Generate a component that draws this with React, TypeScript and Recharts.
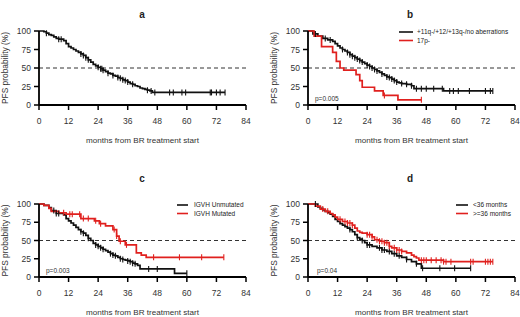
import React from 'react';
import { ComposedChart, Line, XAxis, YAxis, ReferenceLine, Legend } from 'recharts';

const MONTH_TICKS = [0, 12, 24, 36, 48, 60, 72, 84];
const PCT_TICKS = [0, 25, 50, 75, 100];
const X_TITLE = 'months from BR treatment start';
const Y_TITLE = 'PFS probability (%)';

// Panel a: all patients
const A_T = [0, 2, 3, 4, 5, 6, 7, 8, 10, 11, 12, 13, 14, 15, 16, 17, 18, 19, 20, 21, 22, 23, 24, 25, 26, 27, 28, 29, 30, 31, 32, 33, 34, 35, 36, 37, 38, 39, 40, 41, 42, 43, 44, 45, 46, 75.5];
const A_S = [100, 99, 97, 95, 94, 92, 90, 89, 87, 83, 79, 77, 75, 73, 71, 69, 67, 64, 61, 58, 55, 53, 51, 49, 47, 45, 43, 42, 40, 39, 37, 36, 34, 33, 31, 29, 28, 26, 25, 23, 22, 21, 20, 19, 17, 17];
const A_C = [3, 8, 9, 17, 18, 19, 20, 24, 25, 25.5, 26, 28, 30, 32, 33, 34, 35, 36, 38, 44, 45.5, 47, 53, 54.5, 58, 59.5, 69.5, 70, 72, 73.5, 75.5];

// Panel b
const B_NAMES = ['+11q-/+12/+13q-/no aberrations', '17p-'];
const B1_T = [0, 2, 4, 6, 8, 10, 11, 12, 13, 14, 15, 16, 17, 18, 19, 20, 21, 22, 23, 24, 25, 26, 27, 28, 29, 30, 31, 32, 33, 34, 35, 36, 37, 38, 40, 42, 43, 55, 75];
const B1_S = [100, 96, 93, 90, 88, 86, 83, 80, 77, 75, 73, 71, 68, 66, 64, 62, 60, 58, 56, 54, 52, 50, 48, 46, 44, 42, 40, 38, 37, 35, 33, 31, 30, 29, 28, 26, 22, 19, 19];
const B1_C = [3, 7, 9, 14, 16, 17, 18, 19, 20, 21, 22, 24, 25, 26, 27, 28, 30, 32, 33, 34, 35, 36, 38, 40, 42, 44, 46, 48, 51, 54.5, 57.5, 59, 61, 65.5, 72, 74, 75];
const B2_T = [0, 2.5, 5.5, 10, 11.5, 13, 14.5, 19.5, 21, 22, 27, 30.5, 36.5, 46];
const B2_S = [100, 93, 79, 71, 59, 50, 47, 41, 33, 24, 19, 13, 7, 7];
const B2_C = [31, 46];

// Panel c
const C_NAMES = ['IGVH Unmutated', 'IGVH Mutated'];
const C1_T = [0, 2, 4, 5, 7, 10, 11, 12, 13, 14, 15, 16, 17, 18, 19, 20, 21, 22, 23, 24, 25, 26, 27, 28, 29, 30, 31, 32, 33, 34, 35, 36, 37, 38, 39, 40, 41, 55, 60];
const C1_S = [100, 98, 95, 91, 87, 85, 80, 77, 74, 71, 68, 65, 62, 60, 57, 53, 50, 46, 44, 42, 40, 38, 36, 34, 32, 30, 29, 27, 25, 24, 23, 22, 21, 19, 18, 16, 11, 5, 5];
const C1_C = [6, 7, 8, 17, 18, 20, 23, 24, 25, 26, 29, 30, 31, 33, 34, 36, 37, 38, 39, 44.5, 48, 60];
const C2_T = [0, 2, 4, 5, 8, 11, 17, 22.5, 24.5, 27, 30, 31.5, 32.5, 35, 39.5, 41.5, 43.5, 75];
const C2_S = [100, 98, 94, 90, 88, 86, 80, 77, 73, 70, 65, 56, 49, 44, 33, 30, 27, 27];
const C2_C = [10, 12.5, 13.5, 16.5, 18, 20, 23, 25, 30.5, 31.5, 33, 35.5, 46.5, 57, 66, 75];

// Panel d
const D_NAMES = ['<36 months', '>=36 months'];
const D1_T = [0, 4, 5, 6, 7, 8, 9, 10, 11, 12, 13, 14, 15, 16, 17, 18, 19, 20, 21, 22, 23, 24, 26, 28, 30, 32, 34, 36, 38, 40, 42, 44, 46, 66];
const D1_S = [100, 96, 94, 92, 90, 88, 86, 83, 79, 76, 73, 71, 69, 67, 65, 62, 58, 54, 52, 50, 47, 44, 42, 40, 37, 35, 32, 29, 27, 24, 21, 18, 12, 12];
const D1_C = [3, 17, 20, 22, 24, 25, 29, 30, 31, 33, 35, 37, 40, 44, 46.5, 53.5, 59.5, 66];
const D2_T = [0, 3, 5, 7, 9, 10, 11, 12, 14, 16, 18, 19, 20, 21, 22, 24, 26, 27, 29, 31, 33, 34, 36, 38, 40, 42, 43, 44, 45, 55, 75];
const D2_S = [100, 97, 93, 90, 87, 85, 82, 79, 76, 74, 71, 67, 63, 61, 60, 58, 55, 51, 49, 47, 42, 40, 37, 35, 33, 30, 28, 26, 23, 21, 21];
const D2_C = [6, 8, 13, 15, 16, 17, 18, 24, 25, 26, 28, 29, 30, 31, 32, 33, 35, 36, 37, 38, 46, 47, 48, 50, 52, 54, 55, 56, 58, 66, 67, 72, 73, 74, 75];

const P_VALUES = { b: 'p=0.005', c: 'p=0.003', d: 'p=0.04' };

const BLACK = '#111';
const RED = '#e0201e';
const FONT = '"Liberation Sans", Arial, Helvetica, sans-serif';

type Pt = { t: number; s: number; c: boolean };

function survivalAt(T: number[], S: number[], t: number) {
  let v = S[0];
  for (let i = 0; i < T.length; i++) if (T[i] <= t) v = S[i];
  return v;
}

function build(T: number[], S: number[], C: number[]): Pt[] {
  const pts: Pt[] = T.map((t, i) => ({ t, s: S[i], c: false }));
  C.forEach((c) => pts.push({ t: c, s: survivalAt(T, S, c), c: true }));
  pts.sort((a, b) => a.t - b.t || (a.c ? 1 : 0) - (b.c ? 1 : 0));
  return pts;
}

const censorDot = (color: string) => (props: any) => {
  const { cx, cy, payload, index } = props;
  if (!payload || !payload.c) return <g key={`n${index}`} />;
  return <line key={`c${index}`} x1={cx} x2={cx} y1={cy - 3} y2={cy + 3} stroke={color} strokeWidth={1.1} />;
};

const yLabel = (props: any) => {
  const vb = props.viewBox || {};
  const x = vb.x + vb.width - 34;
  const y = vb.y + vb.height / 2;
  return (
    <text x={x} y={y} transform={`rotate(-90 ${x} ${y})`} textAnchor="middle" dominantBaseline="central" fontSize={8.4} fill="#333" fontFamily={FONT}>
      {Y_TITLE}
    </text>
  );
};

const legendContent = (order: string[], lineLen: number, gap: number) => (props: any) => {
  const payload = [...(props.payload || [])].sort(
    (a: any, b: any) => order.indexOf(a.value) - order.indexOf(b.value)
  );
  return (
    <svg width={130} height={20} style={{ display: 'block', overflow: 'visible' }}>
      {payload.map((p: any, i: number) => (
        <g key={i}>
          <line x1={0} x2={lineLen} y1={4 + i * 8.5} y2={4 + i * 8.5} stroke={p.color} strokeWidth={1.6} />
          <text x={lineLen + gap} y={4 + i * 8.5} dy="0.35em" fontSize={6.5} fill="#222" fontFamily={FONT}>
            {p.value}
          </text>
        </g>
      ))}
    </svg>
  );
};

type Series = { name: string; color: string; data: Pt[] };

function Panel(props: {
  left: number; top: number; width: number; height: number;
  margin: { top: number; right: number; left: number; bottom: number };
  yWidth: number; series: Series[];
  legendPos?: { left: number; top: number; lineLen: number; gap: number };
}) {
  const { left, top, width, height, margin, yWidth, series, legendPos } = props;
  const tickStyle = { fontSize: 8.5, fill: '#333', fontFamily: FONT };
  const order = series.map((s) => s.name);
  return (
    <div style={{ position: 'absolute', left, top, width, height }}>
      <ComposedChart width={width} height={height} margin={margin}>
        <XAxis
          type="number" dataKey="t" domain={[0, 84]} ticks={MONTH_TICKS} interval={0}
          height={38} tickSize={5} tickMargin={8} tick={tickStyle}
          axisLine={{ stroke: '#000', strokeWidth: 1.8 }} tickLine={{ stroke: '#000', strokeWidth: 1.5 }}
          allowDuplicatedCategory={false}
          label={{ value: X_TITLE, position: 'insideBottom', offset: 0, fontSize: 8.1, fill: '#333', fontFamily: FONT }}
        />
        <YAxis
          type="number" dataKey="s" domain={[0, 100]} ticks={PCT_TICKS} interval={0}
          width={yWidth} tickSize={5} tickMargin={3} tick={tickStyle}
          axisLine={{ stroke: '#000', strokeWidth: 1.8 }} tickLine={{ stroke: '#000', strokeWidth: 1.5 }}
          label={{ content: yLabel }}
        />
        <ReferenceLine y={50} stroke="#333" strokeDasharray="4 3" strokeWidth={1} ifOverflow="extendDomain" />
        {series.map((s) => (
          <Line
            key={s.name} name={s.name} data={s.data} dataKey="s" type="stepAfter"
            stroke={s.color} strokeWidth={1.7} dot={censorDot(s.color)} activeDot={false}
            isAnimationActive={false}
          />
        ))}
        {legendPos && (
          <Legend
            layout="vertical" align="center" verticalAlign="middle"
            content={legendContent(order, legendPos.lineLen, legendPos.gap)}
            wrapperStyle={{ position: 'absolute', left: legendPos.left, top: legendPos.top, width: 130, height: 20 }}
          />
        )}
      </ComposedChart>
    </div>
  );
}

export default function App() {
  const aSeries: Series[] = [{ name: 'all', color: BLACK, data: build(A_T, A_S, A_C) }];
  const bSeries: Series[] = [
    { name: B_NAMES[0], color: BLACK, data: build(B1_T, B1_S, B1_C) },
    { name: B_NAMES[1], color: RED, data: build(B2_T, B2_S, B2_C) },
  ];
  const cSeries: Series[] = [
    { name: C_NAMES[0], color: BLACK, data: build(C1_T, C1_S, C1_C) },
    { name: C_NAMES[1], color: RED, data: build(C2_T, C2_S, C2_C) },
  ];
  const dSeries: Series[] = [
    { name: D_NAMES[0], color: BLACK, data: build(D1_T, D1_S, D1_C) },
    { name: D_NAMES[1], color: RED, data: build(D2_T, D2_S, D2_C) },
  ];
  return (
    <div style={{ position: 'absolute', left: 0, top: 0, width: 520, height: 317, background: '#fff', fontFamily: FONT, overflow: 'hidden' }}>
      <Panel left={0} top={0} width={260} height={157} margin={{ top: 31, right: 14, left: 0, bottom: 14 }} yWidth={39} series={aSeries} />
      <Panel left={260} top={0} width={260} height={157} margin={{ top: 31, right: 5, left: 0, bottom: 14 }} yWidth={48} series={bSeries}
        legendPos={{ left: 139, top: 28, lineLen: 14, gap: 4 }} />
      <Panel left={0} top={157} width={260} height={160} margin={{ top: 47, right: 14, left: 0, bottom: 2 }} yWidth={39} series={cSeries}
        legendPos={{ left: 177, top: 44, lineLen: 11, gap: 6 }} />
      <Panel left={260} top={157} width={260} height={160} margin={{ top: 47, right: 5, left: 0, bottom: 2 }} yWidth={48} series={dSeries}
        legendPos={{ left: 196, top: 44, lineLen: 12, gap: 5 }} />
      <svg width={520} height={317} style={{ position: 'absolute', left: 0, top: 0, pointerEvents: 'none' }}>
        <g fontFamily={FONT} fontWeight="bold" fontSize={10} fill="#222" textAnchor="middle">
          <text x={142} y={17.5}>a</text>
          <text x={410} y={17.5}>b</text>
          <text x={142} y={181.5}>c</text>
          <text x={410} y={181.5}>d</text>
        </g>
        <g fontFamily={FONT} fontSize={6.5} fill="#333">
          <text x={315} y={100.5}>{P_VALUES.b}</text>
          <text x={46} y={272.5}>{P_VALUES.c}</text>
          <text x={317} y={272.5}>{P_VALUES.d}</text>
        </g>
      </svg>
    </div>
  );
}
